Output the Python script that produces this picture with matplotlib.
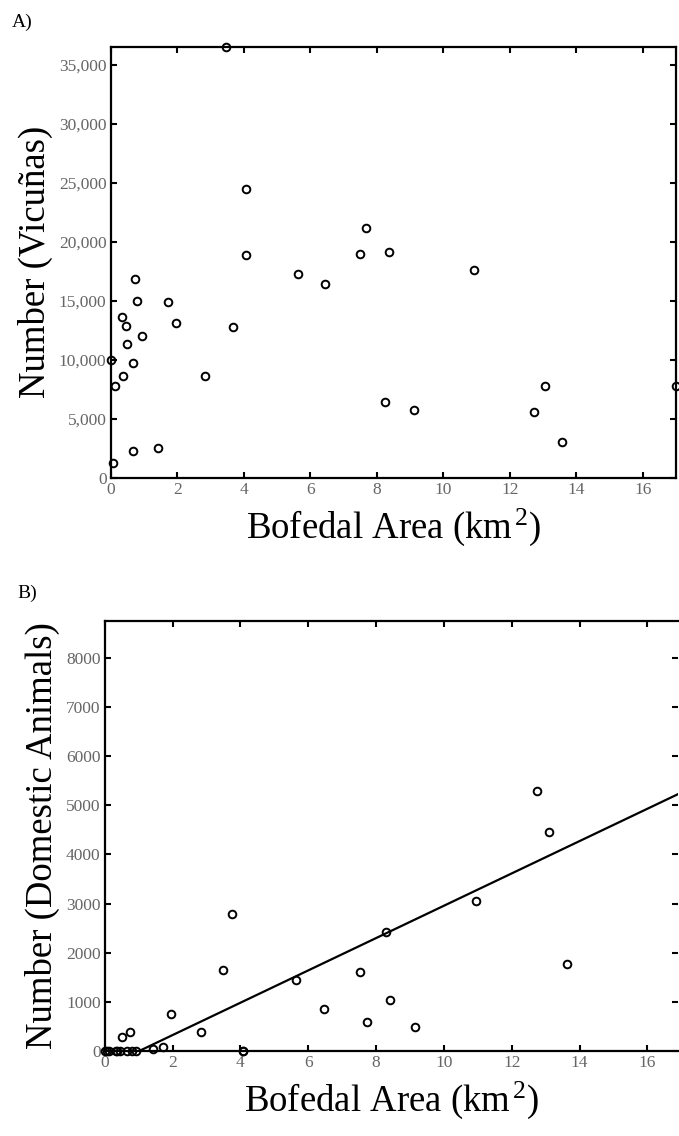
import numpy as np
import matplotlib
matplotlib.use("Agg")
import matplotlib.pyplot as plt
from matplotlib.ticker import FuncFormatter

plt.rcParams['font.family'] = ['Liberation Serif', 'DejaVu Serif']
plt.rcParams['mathtext.fontset'] = 'custom'
plt.rcParams['mathtext.rm'] = 'Liberation Serif'
plt.rcParams['mathtext.it'] = 'Liberation Serif:italic'

# Panel A data: bofedal area (km2) vs vicuna numbers
area_a = [0.0, 0.08, 0.12, 0.34, 0.37, 0.45, 0.48, 0.66, 0.66, 0.72, 0.79, 0.93,
          1.42, 1.71, 1.96, 2.84, 3.46, 3.69, 4.07, 4.07, 5.63, 6.45, 7.5, 7.68,
          8.37, 8.25, 9.12, 10.93, 12.73, 13.06, 13.57, 17.0]
vicunas = [10000, 1250, 7800, 13600, 8600, 12900, 11300, 9700, 2240, 16850, 15000, 12050,
           2525, 14860, 13120, 8650, 36500, 12780, 24500, 18870, 17250, 16400, 19000, 21150,
           19100, 6450, 5700, 17600, 5600, 7750, 3060, 7760]

# Panel B data: bofedal area (km2) vs domestic animals
area_b = [0.0, 0.08, 0.12, 0.34, 0.37, 0.45, 0.5, 0.66, 0.73, 0.79, 0.93,
          1.42, 1.71, 1.96, 2.84, 3.48, 3.74, 4.07, 4.07, 5.63, 6.45, 7.53, 7.72,
          8.29, 8.4, 9.15, 10.94, 12.75, 13.09, 13.62]
domestic = [0, 0, 0, 0, 0, 0, 290, 0, 380, 0, 0,
            50, 80, 760, 380, 1650, 2784, 0, 0, 1450, 860, 1615, 584,
            2430, 1032, 482, 3061, 5295, 4460, 1772]

# Regression line for panel B
reg_slope = 329.0
reg_intercept = -333.0

a_xticks = [0, 2, 4, 6, 8, 10, 12, 14, 16]
a_yticks = [0, 5000, 10000, 15000, 20000, 25000, 30000, 35000]
b_yticks = [0, 1000, 2000, 3000, 4000, 5000, 6000, 7000, 8000]

fig = plt.figure(figsize=(6.79, 11.36), dpi=100)

tick_color = '#666666'
label_fs = 26.5
tick_fs = 12.5

def style(ax):
    ax.tick_params(direction='in', top=True, right=True, length=4.5, width=1.5,
                   labelsize=tick_fs, labelcolor=tick_color, pad=3, color='black')
    for s in ax.spines.values():
        s.set_linewidth(1.6)

xlabel_text = 'Bofedal Area (km$^{\\,2}$)'

# Panel A
axA = fig.add_axes([0.163, 0.5795, 0.8326, 0.3795])
axA.plot(area_a, vicunas, linestyle='none', marker='o', markersize=5.5,
         markerfacecolor='none', markeredgecolor='black', markeredgewidth=1.4,
         clip_on=False, zorder=5)
axA.set_xlim(0, 17)
axA.set_ylim(0, 36550)
axA.set_xticks(a_xticks)
axA.set_yticks(a_yticks)
axA.yaxis.set_major_formatter(FuncFormatter(lambda v, p: f"{int(v):,}"))
style(axA)
axA.set_xlabel(xlabel_text, fontsize=label_fs, labelpad=6)
axA.set_ylabel('Number (Vicuñas)', fontsize=label_fs, labelpad=4)
fig.text(0.018, 0.980, 'A)', fontsize=14, ha='left', va='center')

# Panel B
axB = fig.add_axes([0.1543, 0.0748, 0.8442, 0.3785])
axB.plot(area_b, domestic, linestyle='none', marker='o', markersize=5.5,
         markerfacecolor='none', markeredgecolor='black', markeredgewidth=1.4,
         clip_on=False, zorder=5)
x0 = -reg_intercept / reg_slope
xl = np.array([x0, 16.9])
axB.plot(xl, reg_slope * xl + reg_intercept, color='black', linewidth=1.6)
axB.set_xlim(0, 16.9)
axB.set_ylim(0, 8750)
axB.set_xticks(a_xticks)
axB.set_yticks(b_yticks)
style(axB)
axB.spines['right'].set_visible(False)
axB.set_xlabel(xlabel_text, fontsize=label_fs, labelpad=6)
axB.set_ylabel('Number (Domestic Animals)', fontsize=label_fs, labelpad=4)
fig.text(0.025, 0.478, 'B)', fontsize=14, ha='left', va='center')

fig.savefig('out.png', dpi=100)
